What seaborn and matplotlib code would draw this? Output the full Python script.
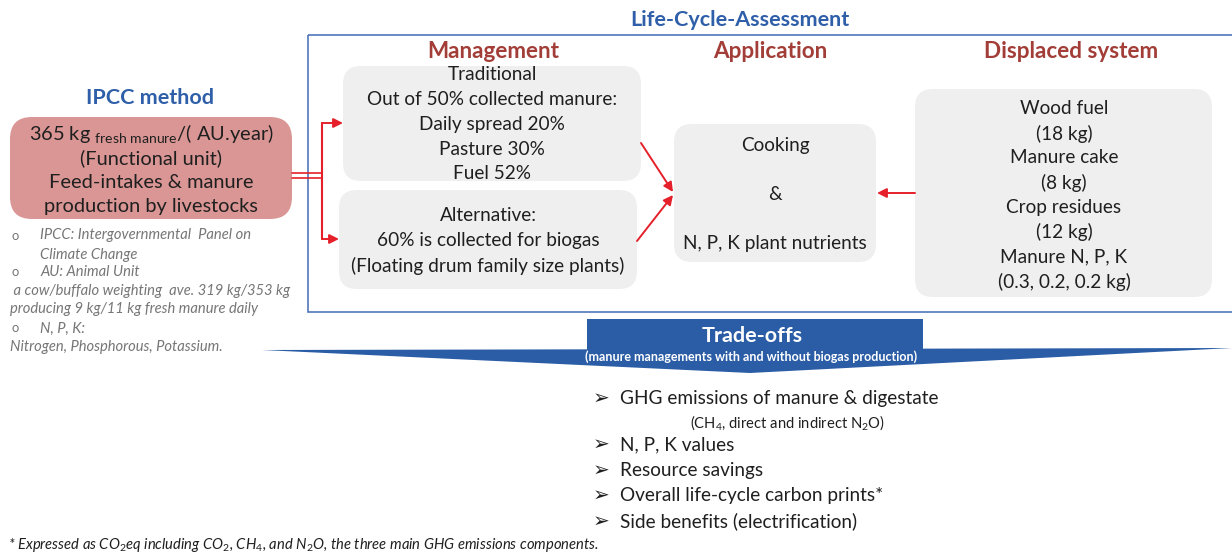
import matplotlib.pyplot as plt
import seaborn as sns
from matplotlib.patches import FancyBboxPatch, Rectangle, Polygon

# ---- diagram content ----
lca_title = "Life-Cycle-Assessment"
stage_titles = ["Management", "Application", "Displaced system"]
ipcc_title = "IPCC method"
ipcc_lines = [r"365 kg $_{\mathrm{fresh\ manure}}$/( AU.year)", "(Functional unit)",
              "Feed-intakes & manure", "production by livestocks"]
traditional_lines = ["Traditional", "Out of 50% collected manure:", "Daily spread 20%",
                     "Pasture 30%", "Fuel 52%"]
alternative_lines = ["Alternative:", "60% is collected for biogas",
                     "(Floating drum family size plants)"]
application_lines = ["Cooking", "&", "N, P, K plant nutrients"]
displaced_lines = ["Wood fuel", "(18 kg)", "Manure cake", "(8 kg)", "Crop residues",
                   "(12 kg)", "Manure N, P, K", "(0.3, 0.2, 0.2 kg)"]
notes = [("o", "IPCC: Intergovernmental  Panel on"), ("", "Climate Change"),
         ("o", "AU: Animal Unit"), (None, " a cow/buffalo weighting  ave. 319 kg/353 kg"),
         (None, "producing 9 kg/11 kg fresh manure daily"), ("o", "N, P, K:"),
         (None, "Nitrogen, Phosphorous, Potassium.")]
tradeoff_title = "Trade-offs"
tradeoff_sub = "(manure managements with and without biogas production)"
tradeoff_items = ["GHG emissions of manure & digestate", r"(CH$_4$, direct and indirect N$_2$O)",
                  "N, P, K values", "Resource savings", "Overall life-cycle carbon prints*",
                  "Side benefits (electrification)"]
footnote = r"* Expressed as CO$_2$eq including CO$_2$, CH$_4$, and N$_2$O, the three main GHG emissions components."

# ---- style ----
sns.set_theme(style="white")
plt.rcParams['font.family'] = ['Lato', 'DejaVu Sans']
plt.rcParams['mathtext.fontset'] = 'custom'
plt.rcParams['mathtext.rm'] = 'Lato'
plt.rcParams['mathtext.it'] = 'Lato:italic'

BLUE = "#2f5fa9"
RED_HEAD = "#a23d37"
ARROW = "#e5202a"
GREY_BOX = "#efefef"
TXT = "#1f1f1f"
NOTE = "#767676"
DY = 1.5  # small baseline nudge for all text

W, H = 1232, 552
fig = plt.figure(figsize=(W / 100, H / 100), dpi=100)
ax = fig.add_axes([0, 0, 1, 1])
ax.set_xlim(0, W)
ax.set_ylim(H, 0)
ax.axis("off")


def pt(px):
    return px * 0.72


def box(x0, y0, x1, y1, color, r=18):
    ax.add_patch(FancyBboxPatch((x0, y0), x1 - x0, y1 - y0,
                                boxstyle=f"round,pad=0,rounding_size={r}",
                                fc=color, ec="none", zorder=1))


def txt(x, y, s, size, ha="center", **kw):
    kw.setdefault("color", TXT)
    ax.text(x, y + DY, s, ha=ha, va="center", fontsize=pt(size), **kw)


def lines(txts, cx, ys, size, **kw):
    for t, y in zip(txts, ys):
        txt(cx, y, t, size, **kw)


def arrow(x0, y0, x1, y1):
    ax.annotate("", xy=(x1, y1), xytext=(x0, y0),
                arrowprops=dict(arrowstyle="-|>", color=ARROW, lw=1.4,
                                mutation_scale=14, shrinkA=0, shrinkB=0), zorder=3)


# LCA frame
ax.add_patch(Rectangle((308, 35), W - 308 + 5, 312 - 35, fill=False, ec="#4f77bb", lw=1.2))
txt(740, 19, lca_title, 21.5, color=BLUE, fontweight="bold")
for t, x in zip(stage_titles, [493, 770, 1071]):
    txt(x, 50, t, 22.5, color=RED_HEAD, fontweight="bold")

# boxes
box(343, 66, 641, 181, GREY_BOX)
lines(traditional_lines, 492, [73, 98, 123, 148, 172], 19)
box(339, 190, 637, 289, GREY_BOX)
lines(alternative_lines, 488, [214, 239, 264], 19)
box(674, 124, 876, 262, GREY_BOX)
lines(application_lines, 775, [144, 193, 242], 19)
box(915, 89, 1212, 297, GREY_BOX)
lines(displaced_lines, 1064, [107, 132, 156, 181, 206, 230, 255, 280], 19)

# IPCC
txt(150, 97, ipcc_title, 21.5, color=BLUE, fontweight="bold")
box(10, 117, 292, 219, "#d99694", r=22)
lines(ipcc_lines, 151, [132, 157, 181, 205], 20)

for (m, t), y in zip(notes, [234, 253, 271, 290, 308, 327, 345]):
    if m:
        txt(12, y, m, 13, ha="left", color=NOTE)
    x = 40 if m is not None else 10
    txt(x, y, t, 14.8, ha="left", color=NOTE, style="italic")

# connectors
ax.plot([292, 322], [173, 173], color=ARROW, lw=1.2)
ax.plot([292, 322], [178, 178], color=ARROW, lw=1.2)
ax.plot([322, 322], [123, 239], color=ARROW, lw=1.5)
arrow(322, 123, 343, 123)
arrow(322, 239, 339, 239)
arrow(641, 143, 673, 192)
arrow(637, 241, 673, 195)
arrow(915, 193, 877, 193)

# trade-offs banner
ax.add_patch(Polygon([(262, 350), (1232, 348), (750, 373)], closed=True, fc="#2a5da6",
                     ec="none", zorder=2))
ax.add_patch(Rectangle((587, 319), 336, 34, fc="#2a5da6", ec="none", zorder=2))
txt(752, 335, tradeoff_title, 21.5, color="white", fontweight="bold", zorder=4)
txt(751, 355, tradeoff_sub, 12.5, color="white", fontweight="bold", zorder=4)

item_ys = [397, 421, 443, 469, 494, 520]
for t, y in zip(tradeoff_items, item_ys):
    if t.startswith("(CH"):
        txt(788, y, t, 14.8)
    else:
        txt(593, y, "\u27a2", 20, ha="left", family="DejaVu Sans")
        txt(620, y, t, 19, ha="left")

txt(8, 543, footnote, 14.8, ha="left", style="italic")

fig.savefig("out.png", dpi=100)
